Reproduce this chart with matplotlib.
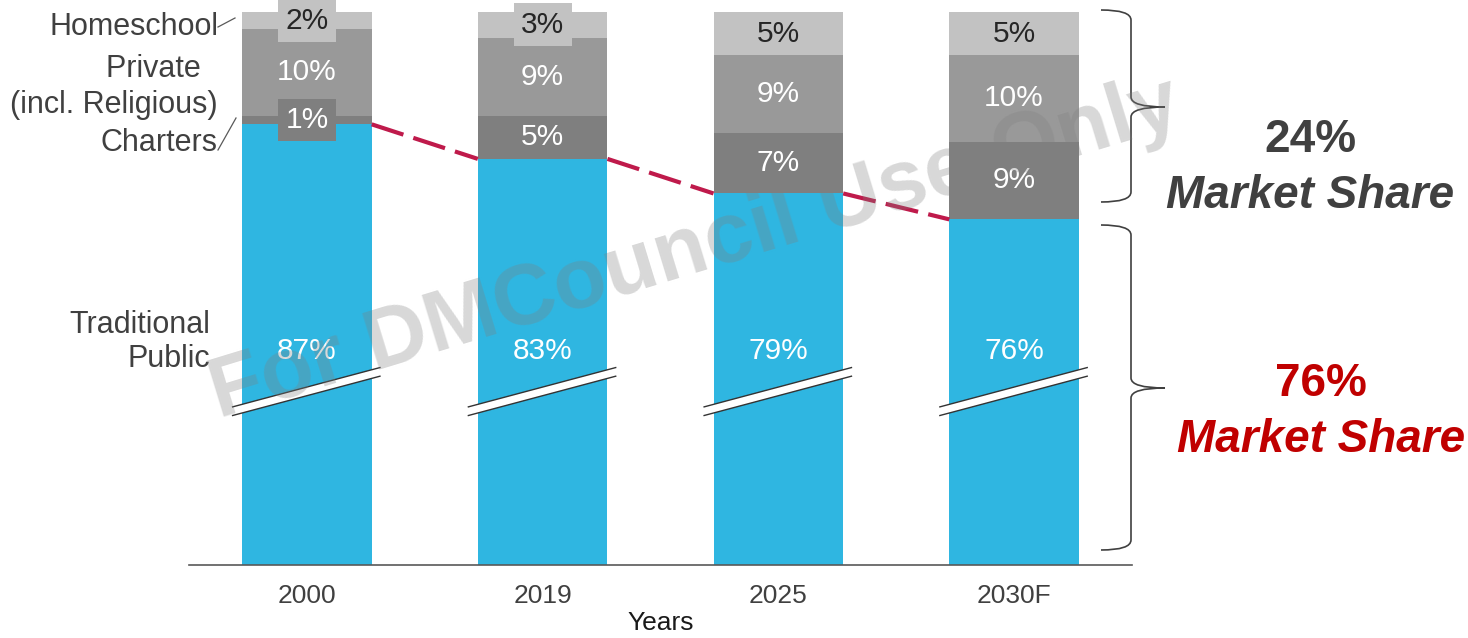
import numpy as np
import matplotlib
matplotlib.use("Agg")
from matplotlib import pyplot as plt
from matplotlib.path import Path
from matplotlib.patches import PathPatch, Polygon
from matplotlib.lines import Line2D

plt.rcParams['font.family'] = ['Liberation Sans', 'DejaVu Sans']

# data (share of K-12 students, %)
years = ['2000', '2019', '2025', '2030F']
public = [87, 83, 79, 76]
charters = [1, 5, 7, 9]
private = [10, 9, 9, 10]
homeschool = [2, 3, 5, 5]

c_public = '#2fb6e1'
c_charter = '#7f7f7f'
c_private = '#999999'
c_home = '#c2c2c2'
c_text = '#404040'

W, H = 1468, 638
fig = plt.figure(figsize=(W / 100, H / 100), dpi=100)

def px(x, y):
    # pixel position (from top-left) -> figure fraction
    return x / W, 1 - y / H

ax = fig.add_axes([189 / W, 73 / H, (1132 - 189) / W, 553 / H])
x = np.arange(len(years))
bw = 0.55

pub = np.array(public)
cha = np.array(charters)
pri = np.array(private)
hom = np.array(homeschool)

ax.bar(x, pub, bw, color=c_public, zorder=2)
ax.bar(x, cha, bw, bottom=pub, color=c_charter, zorder=2)
ax.bar(x, pri, bw, bottom=pub + cha, color=c_private, zorder=2)
ax.bar(x, hom, bw, bottom=pub + cha + pri, color=c_home, zorder=2)

ax.set_xlim(-0.5, 3.5)
ax.set_ylim(36, 100)

# segment labels
fs = 21.5
for i in range(len(years)):
    ax.text(x[i], 60.8, f'{public[i]}%', ha='center', va='center', fontsize=fs, color='white', zorder=5)
    yc = pub[i] + cha[i] / 2
    kw = {}
    if cha[i] <= 2:
        kw['bbox'] = dict(boxstyle='square,pad=0.25', fc=c_charter, ec='none')
    ax.text(x[i], yc, f'{charters[i]}%', ha='center', va='center', fontsize=fs, color='white', zorder=5, **kw)
    yp = pub[i] + cha[i] + pri[i] / 2
    ax.text(x[i], yp, f'{private[i]}%', ha='center', va='center', fontsize=fs, color='white', zorder=5)
    yh = pub[i] + cha[i] + pri[i] + hom[i] / 2
    kw = {}
    if hom[i] <= 3:
        kw['bbox'] = dict(boxstyle='square,pad=0.25', fc=c_home, ec='none')
    ax.text(x[i], yh, f'{homeschool[i]}%', ha='center', va='center', fontsize=fs, color='#262626', zorder=5,
            clip_on=False, **kw)

# axis break marks
for xi in x:
    xl, xr = xi - 0.315, xi + 0.31
    yl, yr, h = 53.8, 58.35, 0.5
    ax.add_patch(Polygon([[xl, yl - h], [xr, yr - h], [xr, yr + h], [xl, yl + h]],
                         closed=True, fc='white', ec='none', zorder=6, clip_on=False))
    for s in (-1, 1):
        ax.plot([xl, xr], [yl + s * h, yr + s * h], color='#333333', lw=1, zorder=7, clip_on=False)

# dashed trend line between public tops
for i in range(len(years) - 1):
    ax.plot([x[i] + bw / 2, x[i + 1] - bw / 2], [public[i], public[i + 1]],
            color='#bf1a4b', lw=3, dashes=(8, 2.5), zorder=3, solid_capstyle='butt')

for s in ['top', 'right', 'left']:
    ax.spines[s].set_visible(False)
ax.spines['bottom'].set_color('#595959')
ax.spines['bottom'].set_linewidth(1.2)
ax.set_yticks([])
ax.set_xticks(x)
ax.set_xticklabels(years, fontsize=19, color=c_text)
ax.tick_params(axis='x', length=0, pad=14)
ax.set_xlabel('Years', fontsize=19, color='#1a1a1a', labelpad=2)

# left category labels
fig.text(*px(218, 27), 'Homeschool', ha='right', va='center', fontsize=22, color=c_text)
fig.text(*px(218, 87), 'Private  \n(incl. Religious)', ha='right', va='center', fontsize=22,
         color=c_text, multialignment='right', linespacing=1.25)
fig.text(*px(218, 143), 'Charters', ha='right', va='center', fontsize=22, color=c_text)
fig.text(*px(210, 342), 'Traditional\nPublic', ha='right', va='center', fontsize=22,
         color=c_text, multialignment='right', linespacing=1.2)
for (x0, y0), (x1, y1) in [((218, 27), (235, 18)), ((218, 150), (236, 118))]:
    a, b = px(x0, y0)
    c, d = px(x1, y1)
    fig.add_artist(Line2D([a, c], [b, d], color='#595959', lw=0.9))

# braces on the right
def brace(y_top, y_bot, y_tip, x0=1101, x1=1131, x2=1165, r=10):
    pts = [px(x0, y_top), px(x1, y_top), px(x1, y_top + r),
           px(x1, y_tip - r), px(x1, y_tip), px(x2, y_tip),
           px(x1, y_tip), px(x1, y_tip + r),
           px(x1, y_bot - r), px(x1, y_bot), px(x0, y_bot)]
    codes = [Path.MOVETO, Path.CURVE3, Path.CURVE3,
             Path.LINETO, Path.CURVE3, Path.CURVE3,
             Path.CURVE3, Path.CURVE3,
             Path.LINETO, Path.CURVE3, Path.CURVE3]
    p = PathPatch(Path(pts, codes), fc='none', ec='#404040', lw=1.2, transform=fig.transFigure)
    fig.add_artist(p)

brace(10, 202, 107)
brace(225, 550, 388)

fig.text(*px(1310, 140), '24%', ha='center', va='center', fontsize=33, weight='bold', color='#404040')
fig.text(*px(1310, 196), 'Market Share', ha='center', va='center', fontsize=33, weight='bold',
         style='italic', color='#404040')
fig.text(*px(1321, 384), '76%', ha='center', va='center', fontsize=33, weight='bold', color='#c00000')
fig.text(*px(1321, 440), 'Market Share', ha='center', va='center', fontsize=33, weight='bold',
         style='italic', color='#c00000')

# watermark
fig.text(*px(695, 250), 'For DMCouncil Use Only', ha='center', va='center', fontsize=62,
         weight='bold', color='#7f7f7f', alpha=0.3, rotation=17, rotation_mode='anchor', zorder=10)

fig.savefig('out.png', dpi=100)
